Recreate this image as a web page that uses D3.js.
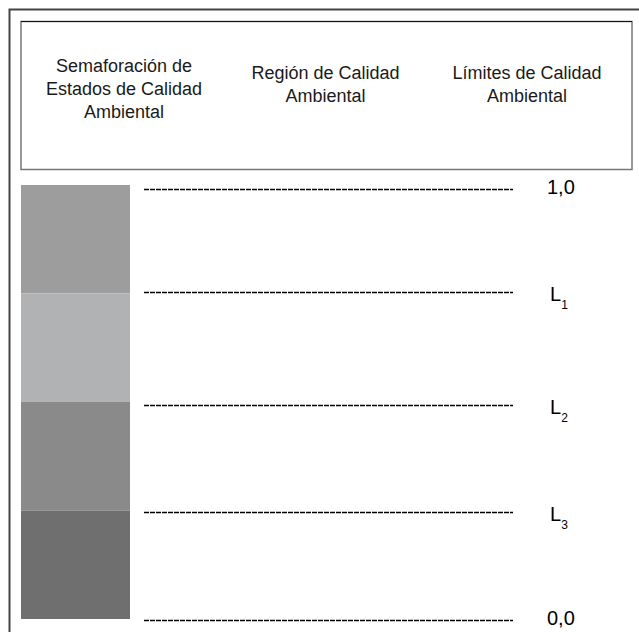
<!DOCTYPE html>
<html>
<head>
<meta charset="utf-8">
<script src="https://cdn.jsdelivr.net/npm/d3@7"></script>
<style>
  body { margin: 0; background: #fff; }
  svg { display: block; font-family: "Liberation Sans", Arial, sans-serif; }
</style>
</head>
<body>
<svg width="639" height="632"></svg>
<script>
// header columns
let headers = [
  ["Semaforación de", "Estados de Calidad", "Ambiental"],
  ["Región de Calidad", "Ambiental"],
  ["Límites de Calidad", "Ambiental"]
];
// limit levels, top to bottom
let limitNames = ["1,0", "L", "L", "L", "0,0"];
let limitSubs = ["", "1", "2", "3", ""];
let limitValues = [1, 0.76, 0.5, 0.25, 0];
// traffic-light bands (upper, lower bound)
let bandTops = [1, 0.75, 0.5, 0.25];
let bandBottoms = [0.75, 0.5, 0.25, 0];
let bandColors = ["#9d9d9e", "#b1b2b3", "#8a8a8b", "#6f6f70"];

let svg = d3.select('svg');

// outer frame (left and top only)
svg.append('path')
  .attr('d', 'M9.5,632 L9.5,9.5 L639,9.5')
  .attr('fill', 'none')
  .attr('stroke', '#444')
  .attr('stroke-width', 2);

// header box
svg.append('rect')
  .attr('x', 21)
  .attr('y', 21.5)
  .attr('width', 611)
  .attr('height', 148)
  .attr('fill', 'none')
  .attr('stroke', '#777')
  .attr('stroke-width', 1.5);
svg.append('line')
  .attr('x1', 21).attr('x2', 632)
  .attr('y1', 21.5).attr('y2', 21.5)
  .attr('stroke', '#111')
  .attr('stroke-width', 1.2);

const colX = d3.scalePoint()
  .domain(d3.range(headers.length))
  .range([124, 527]);

headers.forEach((lines, i) => {
  let t = svg.append('text')
    .attr('text-anchor', 'middle')
    .attr('font-size', 18)
    .attr('fill', '#1a1a1a');
  let top = lines.length === 3 ? 72 : 79;
  lines.forEach((s, j) => {
    t.append('tspan')
      .attr('x', colX(i))
      .attr('y', top + j * 23)
      .text(s);
  });
});

// vertical scale for the quality index
const yScale = d3.scaleLinear()
  .domain([0, 1])
  .range([620, 189]);

const barY = d3.scaleLinear()
  .domain([0, 1])
  .range([619, 185]);

svg.selectAll('.band')
  .data(bandColors)
  .enter()
  .append('rect')
  .attr('class', 'band')
  .attr('x', 21)
  .attr('width', 109)
  .attr('y', (c, i) => barY(bandTops[i]))
  .attr('height', (c, i) => barY(bandBottoms[i]) - barY(bandTops[i]))
  .attr('fill', c => c);

svg.selectAll('.limit')
  .data(limitValues)
  .enter()
  .append('line')
  .attr('class', 'limit')
  .attr('x1', 144)
  .attr('x2', 513)
  .attr('y1', d => Math.round(yScale(d)) + 0.5)
  .attr('y2', d => Math.round(yScale(d)) + 0.5)
  .attr('stroke', '#000')
  .attr('stroke-width', 1.6)
  .attr('stroke-dasharray', '5,1');

let labels = svg.selectAll('.lbl')
  .data(limitValues)
  .enter()
  .append('text')
  .attr('class', 'lbl')
  .attr('font-size', 20)
  .attr('fill', '#000')
  .attr('x', (d, i) => limitSubs[i] ? 550 : 547)
  .attr('y', (d, i) => yScale(d) + (limitSubs[i] ? 9 : 5))
  .text((d, i) => limitNames[i]);

labels.append('tspan')
  .attr('font-size', 12)
  .attr('dy', 8)
  .text((d, i) => limitSubs[i]);
</script>
</body>
</html>
